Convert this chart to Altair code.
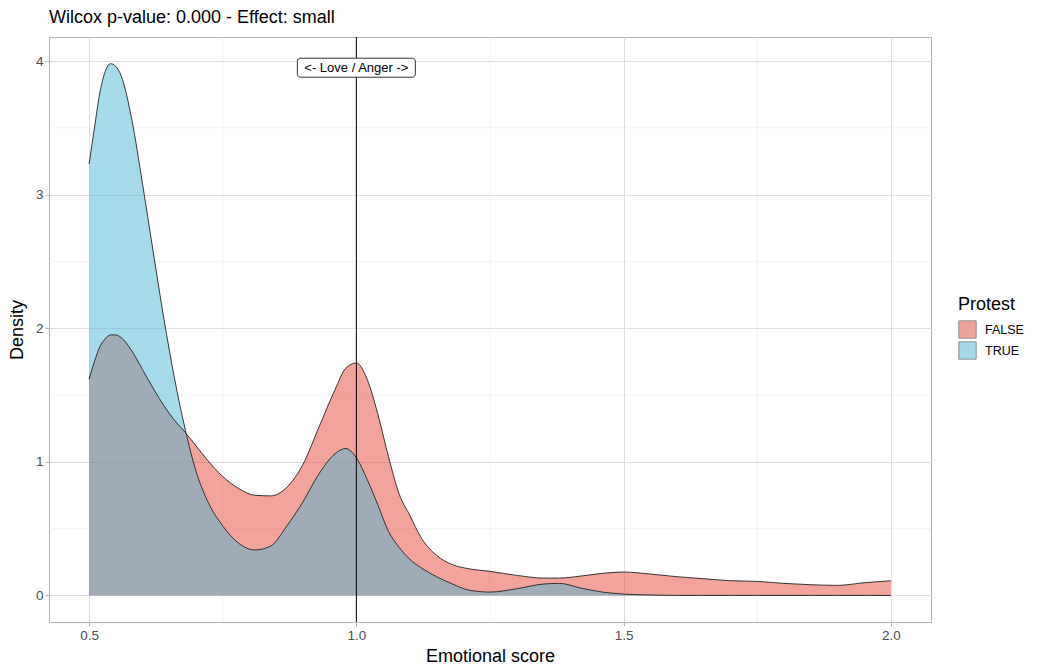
import altair as alt
import pandas as pd

score = [0.50, 0.51, 0.52, 0.53, 0.54, 0.55, 0.56, 0.58, 0.60, 0.62, 0.64, 0.66, 0.68,
         0.70, 0.72, 0.75, 0.78, 0.81, 0.84, 0.87, 0.90, 0.93, 0.96, 0.98, 1.00, 1.02,
         1.04, 1.06, 1.08, 1.10, 1.12, 1.15, 1.18, 1.21, 1.25, 1.30, 1.35, 1.38, 1.42,
         1.46, 1.50, 1.55, 1.60, 1.65, 1.70, 1.75, 1.80, 1.85, 1.90, 1.95, 2.00]

density_false = [1.62, 1.75, 1.86, 1.92, 1.95, 1.95, 1.93, 1.83, 1.69, 1.55, 1.42, 1.31, 1.22,
                 1.12, 1.02, 0.89, 0.80, 0.75, 0.745, 0.81, 0.98, 1.26, 1.54, 1.70, 1.74, 1.62,
                 1.36, 1.04, 0.76, 0.60, 0.44, 0.30, 0.23, 0.20, 0.18, 0.15, 0.13, 0.13, 0.145,
                 0.165, 0.175, 0.16, 0.14, 0.125, 0.11, 0.105, 0.09, 0.08, 0.075, 0.095, 0.11]

density_true = [3.23, 3.50, 3.76, 3.92, 3.98, 3.96, 3.89, 3.56, 3.08, 2.57, 2.07, 1.62, 1.24,
                0.93, 0.72, 0.52, 0.39, 0.34, 0.37, 0.52, 0.70, 0.91, 1.06, 1.10, 1.03, 0.87,
                0.68, 0.48, 0.36, 0.27, 0.21, 0.14, 0.085, 0.04, 0.025, 0.05, 0.085, 0.09, 0.055,
                0.025, 0.01, 0.003, 0.0, 0.0, 0.0, 0.0, 0.0, 0.0, 0.0, 0.0, 0.0]

groups = ["FALSE", "TRUE"]
group_colors = ["#E54737", "#4BB5D5"]

x_ticks = [0.5, 1.0, 1.5, 2.0]
y_ticks = [0, 1, 2, 3, 4]
x_minor = [0.75, 1.25, 1.75]
y_minor = [0.5, 1.5, 2.5, 3.5]

ref_x = [1.0]
label_x = [1.0]
label_y = [3.95]
label_text = ["<- Love / Anger ->"]

rows = []
for g, ys in zip(groups, [density_false, density_true]):
    for s, d in zip(score, ys):
        rows.append({"score": s, "density": d, "Protest": g})
df = pd.DataFrame(rows)

FONT = "Liberation Sans"
xscale = alt.Scale(domain=[0.425, 2.075], nice=False, zero=False)
yscale = alt.Scale(domain=[-0.199, 4.18], nice=False, zero=False)
color = alt.Color("Protest:N", scale=alt.Scale(domain=groups, range=group_colors),
                  legend=alt.Legend(title="Protest", orient="none", legendX=909, legendY=259,
                                    symbolType="square", symbolSize=300, symbolStrokeColor="#222",
                                    symbolStrokeWidth=1, symbolOpacity=0.5, rowPadding=-2,
                                    titleFontSize=18, titleFontWeight="normal", titleColor="#000",
                                    labelFontSize=12.5, labelColor="#000", titlePadding=6,
                                    labelOffset=8, labelFont=FONT, titleFont=FONT))

minor_v = alt.Chart(pd.DataFrame({"v": x_minor})).mark_rule(color="#EBEBEB", strokeWidth=0.6).encode(
    x=alt.X("v:Q", scale=xscale))
minor_h = alt.Chart(pd.DataFrame({"v": y_minor})).mark_rule(color="#EBEBEB", strokeWidth=0.6).encode(
    y=alt.Y("v:Q", scale=yscale))

base = alt.Chart(df)
x_enc = alt.X("score:Q", scale=xscale, title="Emotional score",
              axis=alt.Axis(values=x_ticks, format=".1f"))
y_enc = alt.Y("density:Q", scale=yscale, title="Density", axis=alt.Axis(values=y_ticks, format="d"))

areas = []
lines = []
for g in groups:
    areas.append(base.transform_filter(alt.datum.Protest == g).mark_area(
        interpolate="monotone", opacity=0.5).encode(x=x_enc, y=y_enc, color=color))
    lines.append(base.transform_filter(alt.datum.Protest == g).mark_line(
        interpolate="monotone", color="#222", strokeWidth=0.9).encode(x=x_enc, y=y_enc))

vline = alt.Chart(pd.DataFrame({"v": ref_x})).mark_rule(color="#000", strokeWidth=1).encode(
    x=alt.X("v:Q", scale=xscale))

lab_df = pd.DataFrame({"x": label_x, "y": label_y, "t": label_text})
box = alt.Chart(lab_df).mark_rect(width=118, height=19, cornerRadius=3, fill="white",
                                  stroke="#000", strokeWidth=0.8).encode(
    x=alt.X("x:Q", scale=xscale), y=alt.Y("y:Q", scale=yscale))
txt = alt.Chart(lab_df).mark_text(font=FONT, fontSize=13, color="#000").encode(
    x=alt.X("x:Q", scale=xscale), y=alt.Y("y:Q", scale=yscale), text="t:N")

chart = alt.layer(minor_v, minor_h, *areas, *lines, vline, box, txt).properties(
    width=882, height=585,
    title=alt.TitleParams("Wilcox p-value: 0.000 - Effect: small", anchor="start", frame="group",
                          fontSize=18, fontWeight="normal", font=FONT, color="#000", offset=10),
    padding={"left": 0, "top": 0, "right": 5, "bottom": 0},
).configure_view(stroke="#B3B3B3", strokeWidth=1).configure_axis(
    gridColor="#DEDEDE", gridWidth=1, domain=False, tickColor="#B3B3B3", tickSize=4,
    labelColor="#4D4D4D", labelFontSize=13.5, labelFont=FONT, labelPadding=2,
    titleFont=FONT, titleFontSize=18, titleFontWeight="normal", titleColor="#000",
).configure_axisY(titlePadding=9).configure_axisX(titlePadding=6)

chart.save("out.html", embed_options={"renderer": "svg", "actions": False})
